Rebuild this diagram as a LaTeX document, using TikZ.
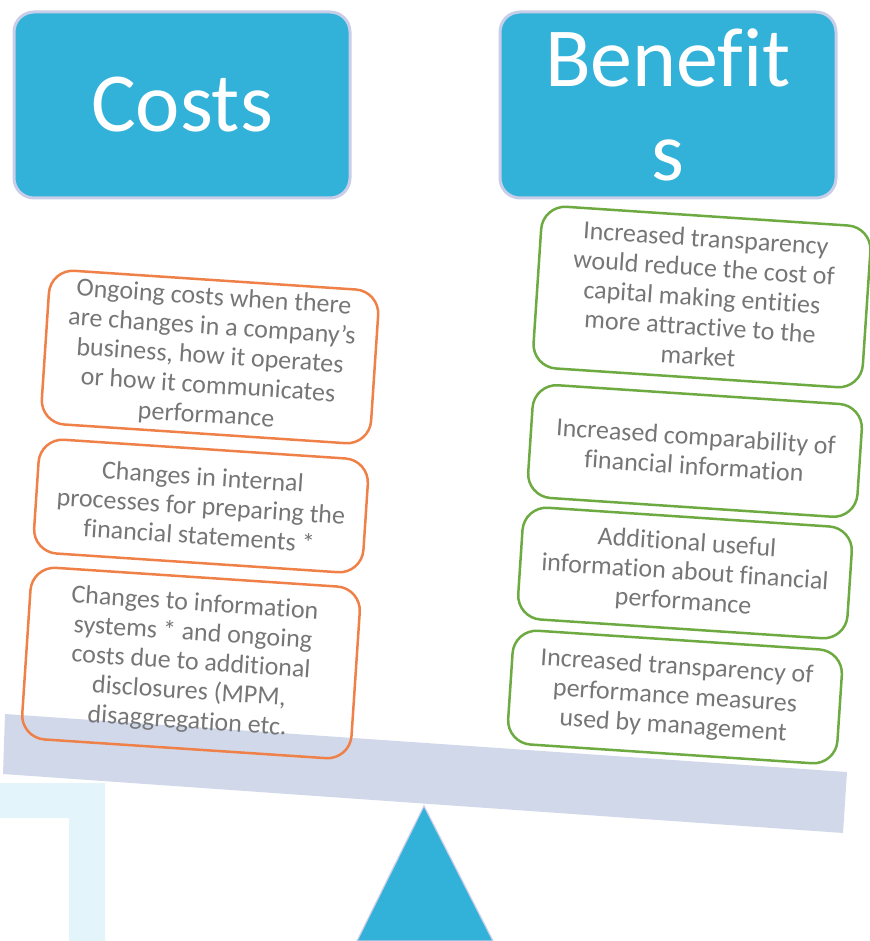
\documentclass[tikz,border=0pt]{standalone}
\usepackage{fontspec}
\setmainfont[Ligatures=NoCommon]{Carlito}
\definecolor{hdrfill}{HTML}{33B2D9}
\definecolor{hdrline}{HTML}{C8CDE8}
\definecolor{beamcol}{HTML}{D1D8EA}
\definecolor{palecol}{HTML}{E4F4FB}
\definecolor{costline}{HTML}{EF8148}
\definecolor{gainline}{HTML}{6DAB42}
\definecolor{txtgray}{HTML}{767676}
\tikzset{
  header/.style={draw=hdrline, line width=3pt, fill=hdrfill, rounded corners=20pt,
    minimum width=336pt, minimum height=186pt, inner sep=0pt,
    text=white, align=center, font=\fontsize{84}{94}\selectfont},
  card/.style={line width=2.5pt, rounded corners=24pt, minimum width=330pt,
    inner sep=0pt, rotate=-3.8, text=txtgray, align=center,
    font=\fontsize{26}{29.5}\selectfont},
  costcard/.style={card, draw=costline},
  gaincard/.style={card, draw=gainline},
}
\begin{document}
\begin{tikzpicture}[x=1pt,y=-1pt]
\useasboundingbox (0,0) rectangle (869,941);

% pale bracket in the lower left corner
\fill[palecol] (0,783) -- (105,783) -- (105,941) -- (69,941) -- (69,818) -- (0,818) -- cycle;

% tilted beam of the scale
\fill[beamcol] (5,714) -- (847,772) -- (843,833) -- (3,774) -- cycle;

% pivot
\filldraw[fill=hdrfill, draw=hdrline, line width=1.2pt] (424,806) -- (493,941) -- (357,941) -- cycle;

% cost items
\node[costcard, minimum height=154pt] (c1) at (210,357)
  {Ongoing costs when there\\are changes in a company’s\\business, how it operates\\or how it communicates\\performance};
\node[costcard, minimum height=114pt] (c2) at (201,506)
  {Changes in internal\\processes for preparing the\\financial statements *};
\node[costcard, minimum height=172pt] (c3) at (191,663)
  {Changes to information\\systems * and ongoing\\costs due to additional\\disclosures (MPM,\\disaggregation etc.};

% benefit items
\node[gaincard, minimum height=162pt] (b1) at (702,297)
  {Increased transparency\\would reduce the cost of\\capital making entities\\more attractive to the\\market};
\node[gaincard, minimum height=113pt] (b2) at (695,451)
  {Increased comparability of\\financial information};
\node[gaincard, minimum height=112pt] (b3) at (685,573)
  {Additional useful\\information about financial\\performance};
\node[gaincard, minimum height=114pt] (b4) at (675,697)
  {Increased transparency of\\performance measures\\used by management};

% headings
\node[header] (costs) at (182,105) {Costs};
\node[header] (benefits) at (668,105) {Benefit\\s};
\end{tikzpicture}
\end{document}
